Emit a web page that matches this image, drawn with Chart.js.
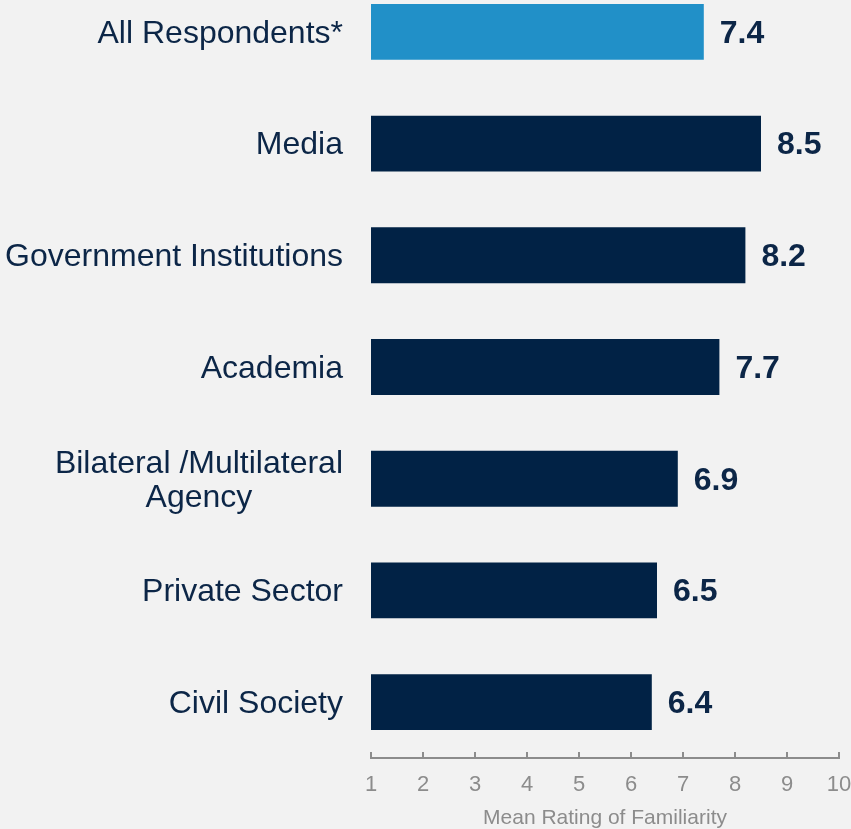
<!DOCTYPE html>
<html>
<head>
<meta charset="utf-8">
<script src="https://cdn.jsdelivr.net/npm/chart.js@4"></script>
<style>
    html, body { margin: 0; padding: 0; background: #f2f2f2; overflow: hidden; }
    #wrap { position: absolute; left: 0; top: -24px; width: 851px; height: 855px; }
</style>
</head>
<body>
<div id="wrap"><canvas id="familiarityChart"></canvas></div>
<script>
const groups = [
    'All Respondents*',
    'Media',
    'Government Institutions',
    'Academia',
    ['Bilateral /Multilateral', 'Agency'],
    'Private Sector',
    'Civil Society'
];
const meanRatings = [7.4, 8.5, 8.2, 7.7, 6.9, 6.5, 6.4];
const xTicks = [1, 2, 3, 4, 5, 6, 7, 8, 9, 10];
const xTitle = 'Mean Rating of Familiarity';

document.addEventListener("DOMContentLoaded", function () {
    const font = '"Liberation Sans", Arial, sans-serif';
    const navy = '#012245';
    const textNavy = '#0c2647';
    const grey = '#8c8c8c';

    // category labels drawn by hand so the two-line one can be centred
    const groupLabels = {
        id: 'groupLabels',
        afterDraw(chart) {
            const ctx = chart.ctx;
            const yScale = chart.scales.y;
            ctx.save();
            ctx.font = '32px ' + font;
            ctx.fillStyle = textNavy;
            ctx.textAlign = 'center';
            ctx.textBaseline = 'middle';
            groups.forEach((g, i) => {
                const lines = Array.isArray(g) ? g : [g];
                const w = Math.max(...lines.map(l => ctx.measureText(l).width));
                const cx = chart.chartArea.left - 28 - w / 2;
                const cy = yScale.getPixelForTick(i) + 2;
                lines.forEach((l, j) => {
                    ctx.fillText(l, cx, cy + (j - (lines.length - 1) / 2) * 34);
                });
            });
            ctx.restore();
        }
    };

    // value labels at the end of each bar + small upward tick marks
    const extras = {
        id: 'extras',
        afterDatasetsDraw(chart) {
            const ctx = chart.ctx;
            const meta = chart.getDatasetMeta(0);
            ctx.save();
            ctx.font = 'bold 32px ' + font;
            ctx.fillStyle = textNavy;
            ctx.textAlign = 'left';
            ctx.textBaseline = 'middle';
            meta.data.forEach((bar, i) => {
                ctx.fillText(meanRatings[i].toFixed(1), bar.x + 16, bar.y + 2);
            });

            const xScale = chart.scales.x;
            const base = chart.chartArea.bottom;
            ctx.strokeStyle = grey;
            ctx.lineWidth = 2;
            xTicks.forEach(v => {
                const px = Math.round(xScale.getPixelForValue(v));
                ctx.beginPath();
                ctx.moveTo(px, base);
                ctx.lineTo(px, base - 6);
                ctx.stroke();
            });
            ctx.restore();
        }
    };

    let ctx = document.getElementById('familiarityChart').getContext('2d');

    new Chart(ctx, {
        type: 'bar',
        data: {
            labels: groups,
            datasets: [{
                data: meanRatings,
                backgroundColor: meanRatings.map((v, i) => i === 0 ? '#2190c8' : navy),
                borderWidth: 0,
                barPercentage: 0.5,
                categoryPercentage: 1
            }]
        },
        options: {
            indexAxis: 'y',
            responsive: true,
            maintainAspectRatio: false,
            animation: false,
            layout: { padding: 0 },
            plugins: {
                legend: { display: false },
                tooltip: { enabled: false }
            },
            scales: {
                y: {
                    grid: { display: false },
                    border: { display: false },
                    ticks: { display: false },
                    afterFit(scale) { scale.width = 371; }
                },
                x: {
                    min: 1,
                    max: 10,
                    afterBuildTicks(scale) {
                        scale.ticks = xTicks.map(v => ({ value: v }));
                    },
                    grid: { display: false, drawTicks: false },
                    border: { display: true, color: grey, width: 2 },
                    ticks: {
                        color: grey,
                        padding: 14,
                        font: { family: font, size: 22 }
                    },
                    title: {
                        display: true,
                        text: xTitle,
                        color: grey,
                        padding: 0,
                        font: { family: font, size: 21 }
                    },
                    afterFit(scale) {
                        scale.height = 73;
                        scale.paddingRight = 12;
                        scale.paddingLeft = 0;
                    }
                }
            }
        },
        plugins: [groupLabels, extras]
    });
});
</script>
</body>
</html>
